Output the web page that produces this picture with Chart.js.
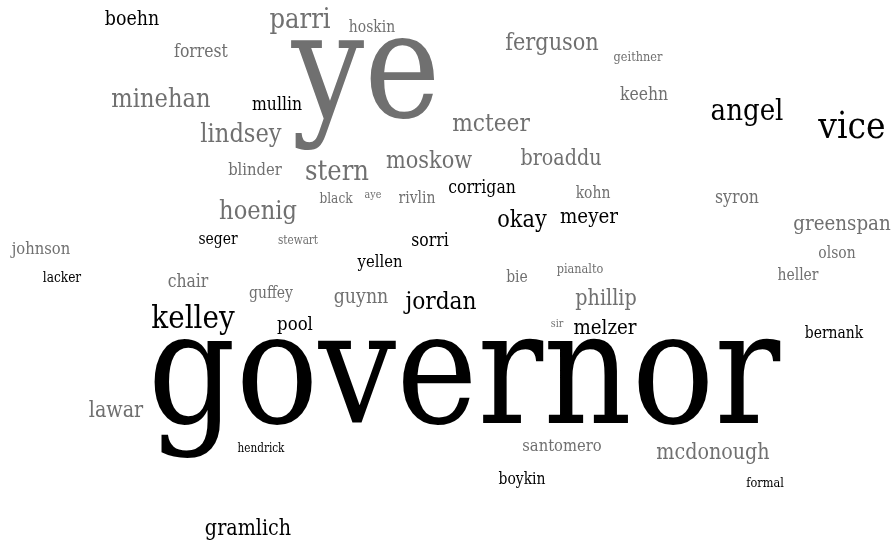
<!DOCTYPE html>
<html>
<head>
<meta charset="utf-8">
<script src="https://cdn.jsdelivr.net/npm/chart.js@4.4.1/dist/chart.umd.min.js"></script>
<style>
  html, body { margin: 0; padding: 0; background: #fff; }
  #wrap { width: 893px; height: 545px; }
</style>
</head>
<body>
<div id="wrap"><canvas id="cloud"></canvas></div>
<script>
// words of the cloud
const words = [
  'governor', 'ye', 'vice', 'kelley', 'angel', 'parri', 'stern', 'minehan', 'lindsey', 'hoenig',
  'mcteer', 'jordan', 'moskow', 'ferguson', 'okay', 'broaddu', 'phillip', 'lawar', 'gramlich', 'mcdonough',
  'meyer', 'melzer', 'greenspan', 'guynn', 'boehn', 'pool', 'mullin', 'forrest', 'corrigan', 'chair',
  'syron', 'keehn', 'sorri', 'johnson', 'santomero', 'blinder', 'yellen', 'hoskin', 'seger', 'rivlin',
  'kohn', 'guffey', 'olson', 'heller', 'bie', 'boykin', 'bernank', 'black', 'lacker', 'geithner',
  'pianalto', 'formal', 'stewart', 'hendrick', 'aye', 'sir'
];
// word weight (drawn as font size)
const weights = [
  158, 148, 38, 32, 30, 28, 28, 26, 26, 26,
  25, 25, 24, 24, 24, 22, 22, 22, 22, 22,
  21, 21, 21, 20, 20, 19, 18, 18, 18, 18,
  18, 18, 18, 17, 17, 17, 17, 16, 16, 16,
  16, 16, 16, 16, 16, 16, 16, 14, 14, 13,
  13, 13, 12, 12, 11, 11
];
// layout coordinates of each word (centre x, baseline y)
const wordX = [
  464, 366, 852, 193, 747, 300, 337, 161, 241, 258,
  491, 441, 429, 552, 522, 561, 606, 116, 248, 713,
  589, 605, 842, 361, 132, 295, 277, 201, 482, 188,
  737, 644, 430, 41, 562, 255, 380, 372, 218, 417,
  593, 271, 837, 798, 517, 522, 834, 336, 62, 638,
  580, 765, 298, 261, 373, 557
];
const wordY = [
  423, 117, 138, 328, 120, 28, 180, 107, 142, 219,
  131, 309, 168, 50, 227, 165, 305, 417, 535, 459,
  223, 334, 230, 303, 25, 330, 110, 57, 193, 287,
  203, 100, 246, 254, 451, 175, 267, 32, 244, 203,
  198, 298, 258, 280, 282, 484, 338, 203, 282, 61,
  273, 487, 244, 452, 198, 327
];
// 1 = dark words, 0 = grey words
const dark = [
  1, 0, 1, 1, 1, 0, 0, 0, 0, 0,
  0, 1, 0, 0, 1, 0, 0, 0, 1, 0,
  1, 1, 0, 0, 1, 1, 1, 0, 1, 0,
  0, 0, 1, 0, 0, 0, 1, 0, 1, 0,
  0, 0, 0, 0, 0, 1, 1, 0, 1, 0,
  0, 1, 0, 1, 0, 0
];

const FONT = "'DejaVu Serif', Georgia, serif";
const SQUEEZE = 0.87; // DejaVu Serif runs wider than the original face

// draws each word at the position of its point
const wordPlugin = {
  id: 'wordPlugin',
  afterDatasetsDraw(chart) {
    const ctx = chart.ctx;
    const meta = chart.getDatasetMeta(0);
    ctx.textAlign = 'center';
    ctx.textBaseline = 'alphabetic';
    meta.data.forEach((pt, i) => {
      ctx.save();
      ctx.translate(pt.x, pt.y);
      ctx.scale(SQUEEZE, 1);
      ctx.font = weights[i] + 'px ' + FONT;
      ctx.fillStyle = dark[i] ? '#000000' : '#707070';
      ctx.fillText(words[i], 0, 0);
      ctx.restore();
    });
  }
};

const ctx = document.getElementById('cloud').getContext('2d');
const chart = new Chart(ctx, {
  type: 'scatter',
  data: {
    datasets: [{
      data: words.map((w, i) => ({ x: wordX[i], y: wordY[i] })),
      pointRadius: 0,
      pointHoverRadius: 0
    }]
  },
  options: {
    responsive: true,
    maintainAspectRatio: false,
    animation: false,
    layout: { padding: 0 },
    plugins: { legend: { display: false }, tooltip: { enabled: false } },
    scales: {
      x: { display: false, min: 0, max: 893 },
      y: { display: false, min: 0, max: 545, reverse: true }
    }
  },
  plugins: [wordPlugin]
});
</script>
</body>
</html>
